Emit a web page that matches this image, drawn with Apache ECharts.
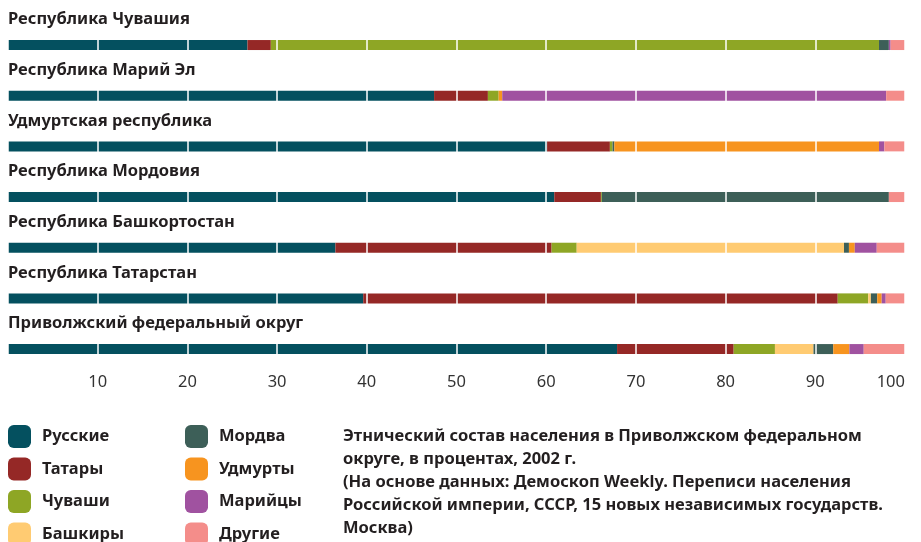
<!DOCTYPE html>
<html>
<head>
<meta charset="utf-8">
<title>Этнический состав населения ПФО</title>
<script src="https://cdn.jsdelivr.net/npm/echarts@6/dist/echarts.min.js"></script>
<style>
  html, body { margin: 0; padding: 0; background: #ffffff; }
  #chart { width: 921px; height: 542px; }
</style>
</head>
<body>
<div id="chart"></div>
<script>
  // регионы сверху вниз
  const regions = [
    'Республика Чувашия',
    'Республика Марий Эл',
    'Удмуртская республика',
    'Республика Мордовия',
    'Республика Башкортостан',
    'Республика Татарстан',
    'Приволжский федеральный округ'
  ]
  const peoples = ['Русские', 'Татары', 'Чуваши', 'Башкиры', 'Мордва', 'Удмурты', 'Марийцы', 'Другие']
  const colors = ['#04505f', '#952826', '#8ea625', '#ffcb72', '#3d5f58', '#f7941f', '#a052a0', '#f48d8a']

  // доли, % (по регионам в том же порядке)
  const russians = [26.7, 47.5, 60.1, 60.9, 36.5, 39.6, 67.9]
  const tatars   = [2.6, 6.0, 7.0, 5.2, 24.1, 52.9, 13.0]
  const chuvash  = [67.8, 1.2, 0.3, 0.1, 2.8, 3.4, 4.6]
  const bashkirs = [0, 0, 0, 0, 29.8, 0.3, 4.3]
  const mordva   = [1.1, 0, 0.2, 32.0, 0.55, 0.7, 2.2]
  const udmurts  = [0, 0.4, 29.5, 0, 0.65, 0.5, 1.8]
  const mari     = [0.2, 42.8, 0.6, 0, 2.45, 0.45, 1.6]
  const others   = [1.6, 2.1, 2.3, 1.8, 3.15, 2.15, 4.6]
  const values = [russians, tatars, chuvash, bashkirs, mordva, udmurts, mari, others]

  const xTicks = [10, 20, 30, 40, 50, 60, 70, 80, 90, 100]

  const note = 'Этнический состав населения в Приволжском федеральном\n' +
    'округе, в процентах, 2002 г.\n' +
    '(На основе данных: Демоскоп Weekly. Переписи населения\n' +
    'Российской империи, СССР, 15 новых независимых государств.\n' +
    'Москва)'

  const font = 'Noto Sans'
  const chart = echarts.init(document.getElementById('chart'))

  const legendBase = {
    orient: 'vertical',
    top: 425,
    height: 160,
    icon: 'roundRect',
    itemWidth: 23,
    itemHeight: 23,
    itemGap: 9.5,
    padding: 0,
    selectedMode: false,
    textStyle: {
      fontFamily: font,
      fontSize: 16.5,
      fontWeight: 'bold',
      color: '#231f20',
      padding: [0, 0, 0, 6]
    }
  }

  const option = {
    animation: false,
    color: colors,
    textStyle: { fontFamily: font },
    title: {
      text: note,
      left: 343,
      top: 425,
      padding: 0,
      textStyle: {
        fontFamily: font,
        fontSize: 16.5,
        fontWeight: 'bold',
        lineHeight: 23,
        color: '#231f20'
      }
    },
    legend: [
      Object.assign({}, legendBase, { left: 8, data: peoples.slice(0, 4) }),
      Object.assign({}, legendBase, { left: 185, data: peoples.slice(4) })
    ],
    grid: {
      left: 8,
      right: 16,
      top: 19.7,
      height: 354.7,
      containLabel: false
    },
    xAxis: {
      type: 'value',
      min: 0,
      max: 100,
      interval: 10,
      z: 5,
      axisLine: { show: false },
      axisTick: { show: false },
      splitLine: { show: true, lineStyle: { color: '#ffffff', width: 1.5 } },
      axisLabel: {
        margin: -1,
        fontSize: 16.5,
        color: '#333333',
        fontFamily: font,
        verticalAlign: 'top',
        formatter: function (v) { return xTicks.indexOf(v) >= 0 ? String(v) : '' },
        alignMaxLabel: 'right'
      }
    },
    yAxis: {
      type: 'category',
      inverse: true,
      data: regions,
      z: 6,
      axisLine: { show: false },
      axisTick: { show: false },
      splitLine: { show: false },
      axisLabel: {
        inside: true,
        interval: 0,
        margin: 0,
        align: 'left',
        verticalAlign: 'bottom',
        padding: [0, 0, 17, 0],
        fontSize: 16.5,
        fontWeight: 'bold',
        fontFamily: font,
        color: '#231f20'
      }
    },
    series: peoples.map(function (name, i) {
      return {
        name: name,
        type: 'bar',
        stack: 'total',
        barWidth: 10,
        data: values[i]
      }
    })
  }

  chart.setOption(option)
</script>
</body>
</html>
